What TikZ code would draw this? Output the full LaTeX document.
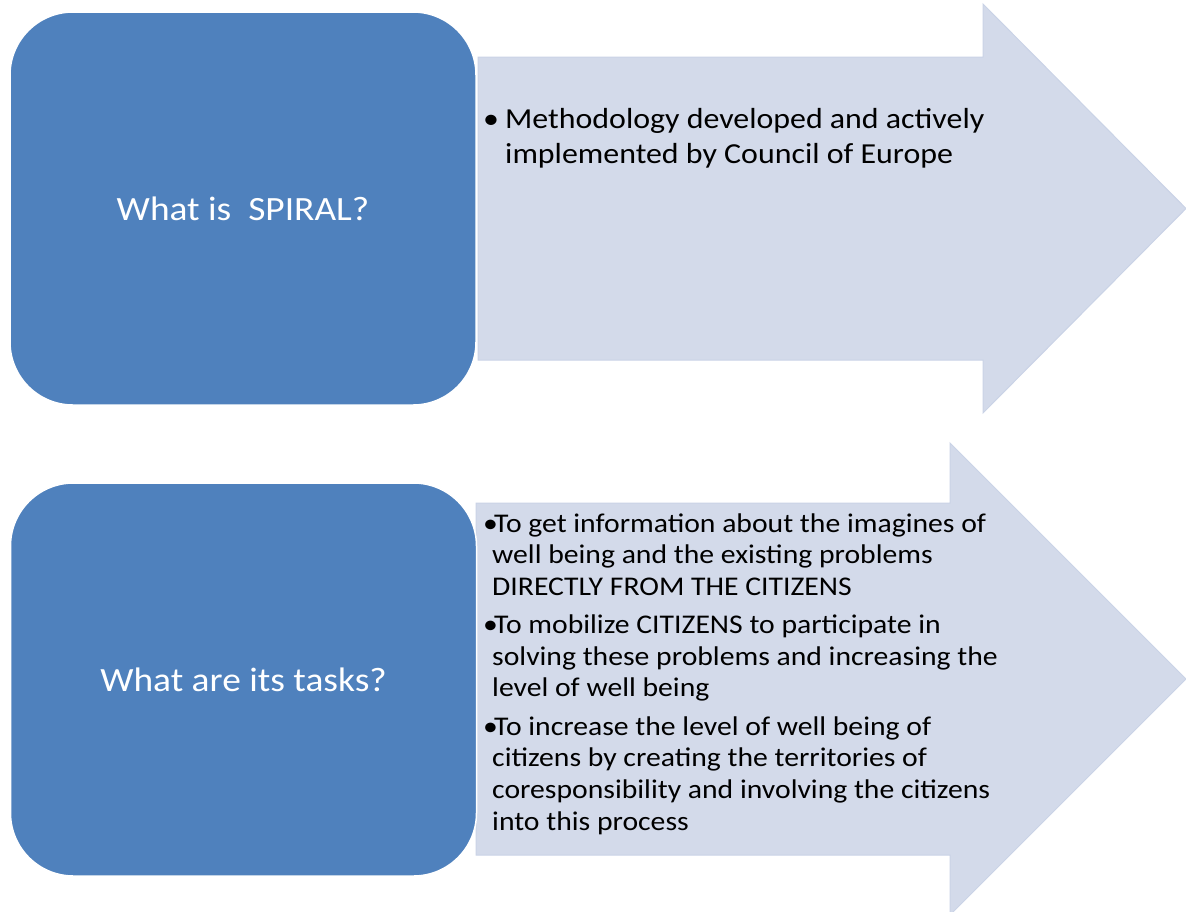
\documentclass[tikz,border=0pt]{standalone}
\usepackage{fontspec}
\setmainfont{Carlito}[FakeStretch=1.1]
\usepackage{xcolor}
\usetikzlibrary{positioning}
\definecolor{boxblue}{RGB}{79,129,189}
\definecolor{arrowfill}{RGB}{211,218,234}
\definecolor{arrowedge}{RGB}{202,211,230}

\begin{document}
\begin{tikzpicture}[
        % Define styles for consistency
        x=1pt, y=-1pt,
        question/.style={rectangle, rounded corners=63pt, fill=boxblue, draw=white, line width=1.5pt,
            text=white, font=\fontsize{34}{41}\selectfont,
            minimum width=466pt, minimum height=393pt, inner sep=0pt},
        bigarrow/.style={fill=arrowfill, draw=arrowedge, line width=1pt},
        bullets/.style={anchor=base west, inner sep=0pt, text=black}
    ]
        \useasboundingbox (0,0) rectangle (1186,911);

        % --- Coordinates ---
        % Upper arrow
        \coordinate (up_bl) at (478,57);
        \coordinate (up_hb) at (983,57);
        \coordinate (up_ht) at (983,4);
        \coordinate (up_tip) at (1186,208.5);
        \coordinate (up_hd) at (983,413);
        \coordinate (up_bd) at (983,360);
        \coordinate (up_br) at (478,360);

        % Lower arrow
        \coordinate (lo_bl) at (476,503);
        \coordinate (lo_hb) at (950,503);
        \coordinate (lo_ht) at (950,443);
        \coordinate (lo_tip) at (1186,679);
        \coordinate (lo_hd) at (950,915);
        \coordinate (lo_bd) at (950,855);
        \coordinate (lo_br) at (476,855);

        % --- Draw Arrows (drawn first so they appear behind boxes) ---
        \draw[bigarrow] (up_bl) -- (up_hb) -- (up_ht) -- (up_tip) -- (up_hd) -- (up_bd) -- (up_br) -- cycle;
        \draw[bigarrow] (lo_bl) -- (lo_hb) -- (lo_ht) -- (lo_tip) -- (lo_hd) -- (lo_bd) -- (lo_br) -- cycle;

        % --- Draw Boxes ---
        \node[question] (what) at (243,208.5) {What is~ SPIRAL?};
        \node[question] (tasks) at (243.5,679.5) {What are its tasks?};

        % --- Bullet texts ---
        \node[bullets, font=\fontsize{29}{35}\selectfont] (method) at (483,128)
            {\parbox[t]{560pt}{\hangindent=22pt\hangafter=1\makebox[22pt][l]{•}Methodology developed and actively\\
            implemented by Council of Europe}};

        \node[bullets, font=\fontsize{27}{31.7}\selectfont] (goals) at (483,532)
            {\parbox[t]{560pt}{\setlength{\parskip}{6.4pt}%
            \hangindent=9pt\hangafter=1\makebox[11pt][l]{•}To get information about the imagines of\\
            well being and the existing problems\\
            DIRECTLY FROM THE CITIZENS\par
            \hangindent=9pt\hangafter=1\makebox[11pt][l]{•}To mobilize CITIZENS to participate in\\
            solving these problems and increasing the\\
            level of well being\par
            \hangindent=9pt\hangafter=1\makebox[11pt][l]{•}To increase the level of well being of\\
            citizens by creating the territories of\\
            coresponsibility and involving the citizens\\
            into this process}};

    \end{tikzpicture}
\end{document}
